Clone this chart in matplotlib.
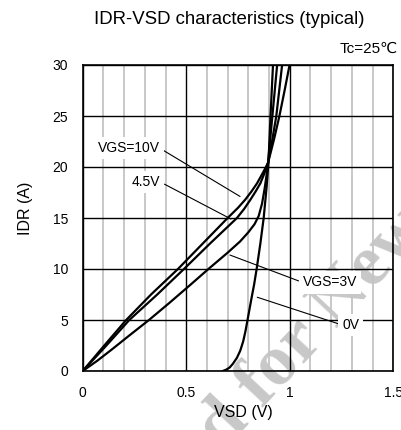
import numpy as np
import matplotlib
matplotlib.use('Agg')
import matplotlib.pyplot as plt

# Police proche d'Arial, avec DejaVu en secours pour le signe ℃
plt.rcParams['font.family'] = ['Liberation Sans', 'DejaVu Sans']

# Données (VSD en V, IDR en A)
vsd_0v = [0.677, 0.695, 0.71, 0.725, 0.745, 0.761, 0.775, 0.786, 0.796, 0.814, 0.828, 0.84, 0.858, 0.874, 0.888, 0.897, 0.907, 0.919]
idr_0v = [0, 0.15, 0.35, 0.7, 1.3, 2.0, 2.9, 3.9, 5, 7, 8.5, 10, 12.5, 15, 18, 20.4, 25, 30]

vsd_3v = [0, 0.07, 0.14, 0.22, 0.32, 0.42, 0.52, 0.61, 0.70, 0.76, 0.80, 0.83, 0.85, 0.866, 0.878, 0.888, 0.895, 0.905, 0.916, 0.939]
idr_3v = [0, 1.0, 2.1, 3.4, 5, 6.7, 8.45, 10.05, 11.6, 12.7, 13.6, 14.4, 15.2, 16.4, 17.8, 19.2, 20.4, 22.6, 25, 30]

vsd_45v = [0, 0.11, 0.225, 0.36, 0.489, 0.615, 0.745, 0.78, 0.81, 0.835, 0.858, 0.878, 0.895, 0.915, 0.935, 0.963]
idr_45v = [0, 2.4, 5, 7.5, 10, 12.5, 15, 15.9, 16.8, 17.6, 18.4, 19.4, 20.4, 22.6, 25, 30]

vsd_10v = [0, 0.1, 0.21, 0.33, 0.46, 0.58, 0.70, 0.75, 0.785, 0.815, 0.842, 0.872, 0.895, 0.925, 0.95, 0.975, 0.999]
idr_10v = [0, 2.4, 5, 7.5, 10, 12.5, 15, 16, 16.8, 17.6, 18.4, 19.5, 20.4, 22.8, 25, 27.5, 30]

x_ticks = [0, 0.5, 1, 1.5]
x_labels = ['0', '0.5', '1', '1.5']
y_ticks = [0, 5, 10, 15, 20, 25, 30]

fig = plt.figure(figsize=(4.02, 4.30), dpi=100)
ax = fig.add_axes([82.7 / 402, 59 / 430, 310.6 / 402, 306 / 430])
ax.set_facecolor('none')

# Filigrane gris en arrière-plan (coupé en deux autour de "for")
filigrane = dict(fontsize=52, family='Liberation Serif', weight='bold', color='#c8c8c8',
                 rotation=47, rotation_mode='anchor', va='baseline', zorder=-1)
fig.text(262 / 402, 1 - 409 / 430, 'for New Design', ha='left', **filigrane)
fig.text(250 / 402, 1 - 422 / 430, 'Not Recommended', ha='right', **filigrane)

# Courbes
for v, i in [(vsd_0v, idr_0v), (vsd_3v, idr_3v), (vsd_45v, idr_45v), (vsd_10v, idr_10v)]:
    ax.plot(v, i, color='black', lw=1.6, zorder=3, solid_joinstyle='round')

ax.set_xlim(0, 1.5)
ax.set_ylim(0, 30)
ax.set_xticks(x_ticks)
ax.set_xticklabels(x_labels)
ax.set_xticks(np.arange(0, 1.51, 0.1), minor=True)
ax.set_yticks(y_ticks)
ax.set_axisbelow(True)
ax.grid(which='minor', axis='x', color='#c4c4c4', lw=1.3)
ax.grid(which='major', color='black', lw=1.0)
ax.tick_params(which='both', length=0, labelsize=10)
ax.tick_params(axis='x', pad=10.5)
ax.tick_params(axis='y', pad=10.5)
for s in ax.spines.values():
    s.set_linewidth(1.2)

# Annotations avec traits de rappel
boite = dict(boxstyle='square,pad=0.3', fc='white', ec='none')
ax.annotate('VGS=10V', xy=(0.760, 17.11), xytext=(0.221, 21.86), ha='center', va='center',
            fontsize=10, bbox=boite, zorder=4,
            arrowprops=dict(arrowstyle='-', lw=0.8, color='black', relpos=(1, 0.5), shrinkA=0, shrinkB=0))
ax.annotate('4.5V', xy=(0.716, 14.9), xytext=(0.306, 18.53), ha='center', va='center',
            fontsize=10, bbox=boite, zorder=4,
            arrowprops=dict(arrowstyle='-', lw=0.8, color='black', relpos=(1, 0.5), shrinkA=0, shrinkB=0))
ax.annotate('VGS=3V', xy=(0.711, 11.37), xytext=(1.194, 8.68), ha='center', va='center',
            fontsize=10, bbox=boite, zorder=4,
            arrowprops=dict(arrowstyle='-', lw=0.8, color='black', relpos=(0, 0.5), shrinkA=0, shrinkB=0))
ax.annotate('0V', xy=(0.843, 7.23), xytext=(1.294, 4.51), ha='center', va='center',
            fontsize=10, bbox=boite, zorder=4,
            arrowprops=dict(arrowstyle='-', lw=0.8, color='black', relpos=(0, 0.5), shrinkA=0, shrinkB=0))

# Titres et étiquettes
fig.text(229.5 / 402, 1 - 20 / 430, 'IDR-VSD characteristics (typical)', ha='center', va='center', fontsize=13.4)
fig.text(398 / 402, 1 - 49 / 430, 'Tc=25℃', ha='right', va='center', fontsize=11)
fig.text(243 / 402, 1 - 412 / 430, 'VSD (V)', ha='center', va='center', fontsize=11.5)
fig.text(26 / 402, 1 - 208 / 430, 'IDR (A)', ha='center', va='center', rotation=90, fontsize=11.5)

fig.savefig('out.png', dpi=100)
